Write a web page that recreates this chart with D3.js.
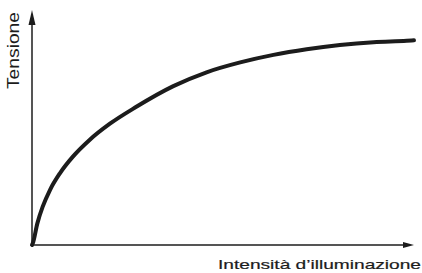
<!DOCTYPE html>
<html>
<head>
<meta charset="utf-8">
<script src="https://cdn.jsdelivr.net/npm/d3@7"></script>
<style>
  html, body { margin: 0; padding: 0; background: #fff; }
  svg { display: block; }
</style>
</head>
<body>
<svg id="chart" width="422" height="273"></svg>
<script>
// values (both axes in arbitrary units, 0..100)
var illum   = [0, 0.2, 1.4, 2.8, 4.7, 7.3, 10.7, 15.0, 20.4, 27.2, 37.0, 45.7, 54.5, 63.2, 71.9, 80.6, 89.4, 98.1, 100];
var tension = [0, 0.7, 9.2, 16.3, 23.4, 30.5, 37.6, 44.6, 51.6, 58.7, 67.6, 73.5, 77.7, 80.9, 83.3, 85.1, 86.3, 86.9, 87.1];
var xLabel = "Intensità d’illuminazione";
var yLabel = "Tensione";

var svg = d3.select("#chart");
var ink = "#1c1c1c";

var x = d3.scaleLinear().domain([0, 100]).range([32, 414]);
var y = d3.scaleLinear().domain([0, 100]).range([245, 10]);

// axes: plain lines with arrow heads
svg.append("line")
	.attr("x1", x(0)).attr("y1", y(0))
	.attr("x2", x(0)).attr("y2", y(100) + 8)
	.attr("stroke", ink)
	.attr("stroke-width", 1.5);

svg.append("line")
	.attr("x1", x(0)).attr("y1", y(0))
	.attr("x2", x(100) - 6).attr("y2", y(0))
	.attr("stroke", ink)
	.attr("stroke-width", 1.5);

// arrow heads
svg.append("path")
	.attr("d", "M" + x(0) + "," + y(100) +
		"L" + (x(0) - 3.5) + "," + (y(100) + 15) +
		"L" + (x(0) + 3.5) + "," + (y(100) + 15) + "Z")
	.attr("fill", ink);

svg.append("path")
	.attr("d", "M" + x(100) + "," + y(0) +
		"L" + (x(100) - 11) + "," + (y(0) - 3) +
		"L" + (x(100) - 11) + "," + (y(0) + 3) + "Z")
	.attr("fill", ink);

// the curve
var pts = illum.map(function(d, i){ return [d, tension[i]]; });
var line = d3.line()
	.x(function(d){ return x(d[0]); })
	.y(function(d){ return y(d[1]); })
	.curve(d3.curveMonotoneX);

svg.append("path")
	.datum(pts)
	.attr("d", line)
	.attr("fill", "none")
	.attr("stroke", ink)
	.attr("stroke-width", 4)
	.attr("stroke-linecap", "round");

// labels
svg.append("text")
	.attr("x", 218)
	.attr("y", 269)
	.attr("font-family", "Liberation Sans, Arial, sans-serif")
	.attr("font-size", 13)
	.attr("fill", ink)
	.attr("stroke", ink)
	.attr("stroke-width", 0.2)
	.attr("textLength", 203)
	.attr("lengthAdjust", "spacingAndGlyphs")
	.text(xLabel);

svg.append("text")
	.attr("transform", "translate(19,89) rotate(-90)")
	.attr("font-family", "Liberation Sans, Arial, sans-serif")
	.attr("font-size", 16)
	.attr("fill", ink)
	.attr("textLength", 77)
	.attr("lengthAdjust", "spacingAndGlyphs")
	.text(yLabel);
</script>
</body>
</html>
